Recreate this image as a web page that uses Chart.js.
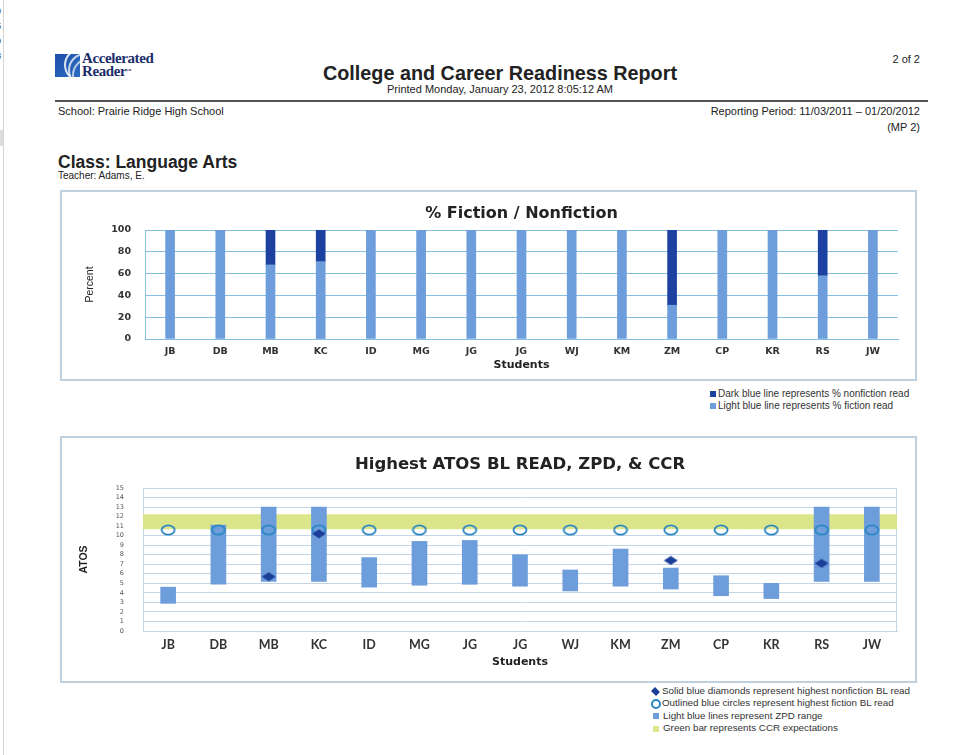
<!DOCTYPE html>
<html>
<head>
<meta charset="utf-8">
<script src="https://cdn.jsdelivr.net/npm/chart.js@4"></script>
<style>
  body { margin: 0; background: #fff; }
  #page { position: relative; width: 980px; height: 755px; overflow: hidden; background: #fff;
          font-family: "Liberation Sans", Arial, sans-serif; color: #222; }
  .abs { position: absolute; white-space: nowrap; }
  .box { position: absolute; box-sizing: border-box; border: 2px solid #bfd1de; }
  .leg { font-size: 10px; line-height: 12px; color: #333; }
  .leg span.m { display: inline-block; vertical-align: middle; margin-right: 2px; }
</style>
</head>
<body>
<div id="page">
  <!-- scan edge on the left -->
  <div class="abs" style="left:3px;top:0;width:1px;height:755px;background:#d4d4d4"></div>
  <div class="abs" style="left:-4px;top:4px;font-size:9px;line-height:15px;color:#555;font-weight:bold">0<br>5<br>0<br>8</div>
  <div class="abs" style="left:0;top:130px;width:3px;height:16px;background:#ddd"></div>

  <!-- logo -->
  <div class="abs" style="left:55px;top:54px;width:25px;height:23px;background:linear-gradient(135deg,#1d4fa8,#2c6cc4);overflow:hidden">
    <div style="position:absolute;left:9px;top:-6px;width:30px;height:30px;border-radius:50%;border:2px solid rgba(255,255,255,.85);border-right-color:transparent;border-bottom-color:transparent"></div>
    <div style="position:absolute;left:13px;top:-1px;width:30px;height:30px;border-radius:50%;border:2px solid rgba(255,255,255,.75);border-right-color:transparent;border-bottom-color:transparent"></div>
    <div style="position:absolute;left:17px;top:4px;width:30px;height:30px;border-radius:50%;border:2px solid rgba(255,255,255,.65);border-right-color:transparent;border-bottom-color:transparent"></div>
  </div>
  <div class="abs" style="left:82px;top:52px;font-family:'Liberation Serif',serif;font-size:15px;line-height:12.5px;color:#1b2d6b;font-weight:bold;letter-spacing:-0.4px">Accelerated<br>Reader<span style="font-size:5px;vertical-align:top">™</span></div>

  <!-- header -->
  <div class="abs" style="right:60px;top:53px;font-size:11px;line-height:12px">2 of 2</div>
  <div class="abs" style="left:0;width:1000px;text-align:center;top:62px;font-size:19.8px;line-height:22px;font-weight:bold">College and Career Readiness Report</div>
  <div class="abs" style="left:0;width:1000px;text-align:center;top:83px;font-size:11px;line-height:12px">Printed Monday, January 23, 2012 8:05:12 AM</div>
  <div class="abs" style="left:55px;top:100px;width:873px;height:2px;background:#555"></div>
  <div class="abs" style="left:58px;top:105px;font-size:11px;line-height:12px">School: Prairie Ridge High School</div>
  <div class="abs" style="right:60px;top:105px;font-size:11px;line-height:12px;text-align:right">Reporting Period: 11/03/2011 – 01/20/2012</div>
  <div class="abs" style="right:60px;top:121px;font-size:11px;line-height:12px;text-align:right">(MP 2)</div>
  <div class="abs" style="left:58px;top:152px;font-size:17.5px;line-height:20px;font-weight:bold">Class: Language Arts</div>
  <div class="abs" style="left:58px;top:170px;font-size:10px;line-height:11px">Teacher: Adams, E.</div>

  <!-- chart 1 -->
  <div class="box" style="left:60px;top:190px;width:857px;height:191px"></div>
  <canvas id="fictionChart" class="abs" style="left:62px;top:192px" width="853" height="187"></canvas>
  <div class="abs leg" style="left:710px;top:388px">
    <div><span class="m" style="width:6px;height:6px;background:#1c41a0"></span>Dark blue line represents % nonfiction read</div>
    <div><span class="m" style="width:6px;height:6px;background:#6d9edb"></span>Light blue line represents % fiction read</div>
  </div>

  <!-- chart 2 -->
  <div class="box" style="left:60px;top:436px;width:857px;height:247px"></div>
  <canvas id="atosChart" class="abs" style="left:62px;top:438px" width="853" height="242"></canvas>
  <div class="abs leg" style="left:651px;top:685px;line-height:12.4px;font-size:9.8px">
    <div><span class="m" style="width:7px;height:7px;background:#1b3f98;transform:rotate(45deg) scale(1,0.8);margin:0 3px 0 1px"></span>Solid blue diamonds represent highest nonfiction BL read</div>
    <div><span class="m" style="width:6px;height:6px;border:2px solid #2b86c4;border-radius:50%;margin-right:1px"></span>Outlined blue circles represent highest fiction BL read</div>
    <div><span class="m" style="width:6px;height:6px;background:#6d9edb;margin:0 4px 0 2px"></span>Light blue lines represent ZPD range</div>
    <div><span class="m" style="width:6px;height:6px;background:#dbe58a;margin:0 4px 0 2px"></span>Green bar represents CCR expectations</div>
  </div>
</div>

<script>
// ---- data ----
const students = ['JB', 'DB', 'MB', 'KC', 'ID', 'MG', 'JG', 'JG', 'WJ', 'KM', 'ZM', 'CP', 'KR', 'RS', 'JW'];

// % Fiction / Nonfiction
const fictionPct    = [100, 100, 68, 71, 100, 100, 100, 100, 100, 100, 31, 100, 100, 58, 100];
const nonfictionPct = [0, 0, 32, 29, 0, 0, 0, 0, 0, 0, 69, 0, 0, 42, 0];
const percentTicks  = [0, 20, 40, 60, 80, 100];

// ATOS BL: ZPD range [low, high], highest fiction / nonfiction BL read
const zpdRange = [
  [2.9, 4.6], [4.9, 11.1], [5.2, 13.0], [5.2, 13.0], [4.6, 7.7],
  [4.8, 9.4], [4.9, 9.5], [4.7, 8.0], [4.2, 6.4], [4.7, 8.6],
  [4.4, 6.6], [3.7, 5.8], [3.4, 5.0], [5.2, 13.0], [5.2, 13.0]
];
const fictionBL    = [10.6, 10.6, 10.6, 10.6, 10.6, 10.6, 10.6, 10.6, 10.6, 10.6, 10.6, 10.6, 10.6, 10.6, 10.6];
const nonfictionBL = [null, null, 5.7, 10.2, null, null, null, null, null, null, 7.4, null, null, 7.1, null];
const ccrLow = 10.7, ccrHigh = 12.2;
const atosTicks = [0, 1, 2, 3, 4, 5, 6, 7, 8, 9, 10, 11, 12, 13, 14, 15];

const LIGHT = '#6d9edb', DARK = '#1c41a0';

// flattened point markers like the report's
function marker(w, h, draw) {
  const c = document.createElement('canvas');
  c.width = w; c.height = h;
  draw(c.getContext('2d'));
  return c;
}
const ringImg = marker(16, 12, ctx => {
  ctx.strokeStyle = '#2b86c4'; ctx.lineWidth = 1.8;
  ctx.beginPath(); ctx.ellipse(8, 6, 6.5, 4.6, 0, 0, Math.PI * 2); ctx.stroke();
});
const diamondImg = marker(16, 10, ctx => {
  ctx.fillStyle = '#1b3f98';
  ctx.beginPath(); ctx.moveTo(1, 5); ctx.lineTo(8, 0.5); ctx.lineTo(15, 5); ctx.lineTo(8, 9.5); ctx.closePath(); ctx.fill();
});

// frame around plot area (chart 2)
const plotFrame = {
  id: 'plotFrame',
  beforeDatasetsDraw(chart) {
    const a = chart.chartArea, ctx = chart.ctx;
    ctx.save();
    ctx.strokeStyle = '#c2d6e8';
    ctx.lineWidth = 1;
    ctx.strokeRect(a.left + 0.5, a.top + 0.5, a.right - a.left - 1, a.bottom - a.top);
    ctx.restore();
  }
};

Chart.defaults.animation = false;
Chart.defaults.color = '#222';

// ---- chart 1 ----
new Chart(document.getElementById('fictionChart'), {
  type: 'bar',
  data: {
    labels: students,
    datasets: [
      { label: 'Fiction', data: fictionPct, backgroundColor: LIGHT, barThickness: 9 },
      { label: 'Nonfiction', data: nonfictionPct, backgroundColor: DARK, barThickness: 9 }
    ]
  },
  options: {
    responsive: false,
    layout: { padding: { left: 8, right: 17, top: 0, bottom: 0 } },
    plugins: {
      legend: { display: false },
      tooltip: { enabled: false },
      title: {
        display: true, fullSize: false, text: '% Fiction / Nonfiction', color: '#222',
        font: { family: 'DejaVu Sans', size: 16, weight: 'bold' },
        padding: { top: 12, bottom: 6.8 }
      }
    },
    scales: {
      x: {
        stacked: true,
        afterFit: s => { s.height = 40; },
        grid: { display: false, drawTicks: false },
        border: { color: '#86bde3' },
        ticks: { padding: 7, color: '#333', font: { family: 'DejaVu Sans', size: 9.5, weight: 'bold' } },
        title: { display: true, text: 'Students', color: '#222', font: { family: 'DejaVu Sans', size: 11, weight: 'bold' }, padding: { top: 0, bottom: 7.4 } }
      },
      y: {
        stacked: true, min: 0, max: 100,
        afterFit: s => { s.width = 75; },
        afterBuildTicks: s => { s.ticks = percentTicks.map(v => ({ value: v })); },
        grid: { color: '#86bde3', drawTicks: false },
        border: { color: '#86bde3' },
        ticks: { autoSkip: false, padding: 14, color: '#333', font: { family: 'DejaVu Sans', size: 9.5, weight: 'bold' } },
        title: { display: true, text: 'Percent', color: '#222', font: { family: 'Liberation Sans', size: 10.5 }, padding: { top: 14, bottom: 0 } }
      }
    }
  }
});

// ---- chart 2 ----
new Chart(document.getElementById('atosChart'), {
  type: 'bar',
  data: {
    labels: students,
    datasets: [
      { type: 'line', label: 'Highest nonfiction BL', data: nonfictionBL, showLine: false,
        pointStyle: diamondImg, pointRadius: 6, order: 1 },
      { type: 'line', label: 'Highest fiction BL', data: fictionBL, showLine: false,
        pointStyle: ringImg, pointRadius: 6, order: 2 },
      { label: 'ZPD range', data: zpdRange, backgroundColor: LIGHT, barThickness: 15, grouped: false, order: 3 },
      { label: 'CCR', data: students.map(() => [ccrLow, ccrHigh]), backgroundColor: '#dbe58a',
        barPercentage: 1, categoryPercentage: 1, grouped: false, order: 4 }
    ]
  },
  options: {
    responsive: false,
    layout: { padding: { left: 8, right: 18, top: 0, bottom: 0 } },
    plugins: {
      legend: { display: false },
      tooltip: { enabled: false },
      title: {
        display: true, fullSize: false, text: 'Highest ATOS BL READ, ZPD, & CCR', color: '#222',
        font: { family: 'DejaVu Sans', size: 16.5, weight: 'bold' },
        padding: { top: 17, bottom: 13.2 }
      }
    },
    scales: {
      x: {
        afterFit: s => { s.height = 49; },
        grid: { display: false, drawTicks: false },
        border: { color: '#c2d6e8' },
        ticks: { padding: 6, color: '#333', font: { family: 'Lato', size: 12.5, weight: 'bold' } },
        title: { display: true, text: 'Students', color: '#222', font: { family: 'DejaVu Sans', size: 11, weight: 'bold' }, padding: { top: 0, bottom: 11.4 } }
      },
      y: {
        min: 0, max: 15,
        afterFit: s => { s.width = 73; },
        afterBuildTicks: s => { s.ticks = atosTicks.map(v => ({ value: v })); },
        grid: { color: '#c2d6e8', drawTicks: false },
        border: { color: '#c2d6e8' },
        ticks: { autoSkip: false, padding: 19, color: '#555', font: { family: 'DejaVu Sans', size: 6.5 } },
        title: { display: true, text: 'ATOS', color: '#222', font: { family: 'Liberation Sans', size: 10.5, weight: 'bold' }, padding: { top: 8, bottom: 0 } }
      }
    }
  },
  plugins: [plotFrame]
});
</script>
</body>
</html>
